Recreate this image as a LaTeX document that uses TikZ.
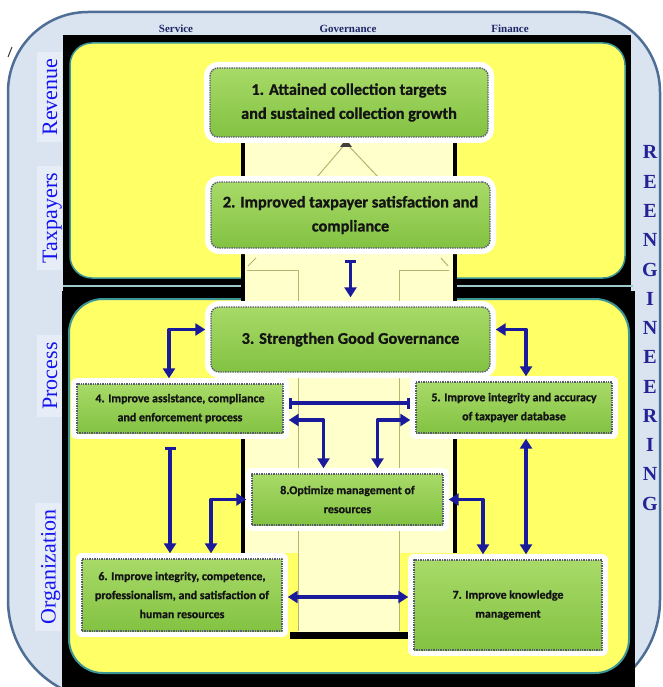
\documentclass[tikz,border=0pt]{standalone}
\usepackage{fontspec}
\newfontfamily\boxfont{Carlito}[BoldFeatures={FakeBold=1}]
\newfontfamily\sidefont{Liberation Serif}
\usetikzlibrary{arrows.meta, positioning, calc}

\definecolor{outerbg}{RGB}{218,227,240}
\definecolor{outerline}{RGB}{78,110,150}
\definecolor{labelbg}{RGB}{230,237,247}
\definecolor{zoneyellow}{RGB}{255,255,102}
\definecolor{paleyellow}{RGB}{255,255,204}
\definecolor{zoneteal}{RGB}{60,150,150}
\definecolor{columnline}{RGB}{180,182,110}
\definecolor{gtop}{RGB}{168,218,104}
\definecolor{gbot}{RGB}{130,194,66}
\definecolor{boxline}{RGB}{90,90,115}
\definecolor{arrowblue}{RGB}{26,26,156}
\definecolor{sideblue}{RGB}{20,20,240}
\definecolor{reblue}{RGB}{35,35,150}
\definecolor{topnavy}{RGB}{30,40,100}

\newcommand\goaltext{\boxfont\bfseries\fontsize{16.3}{24}\selectfont}
\newcommand\tasktext{\boxfont\bfseries\fontsize{11.9}{19}\selectfont}

\tikzset{
  gbox/.style={draw=boxline, line width=1.4pt, densely dotted,
    top color=gtop, bottom color=gbot, text=black!92, align=center,
    inner sep=0pt,
    preaction={draw=white, solid, line width=12pt}},
  goal/.style={gbox, rounded corners=8pt, font=\goaltext},
  task/.style={gbox, font=\tasktext},
  side/.style={rotate=90, fill=labelbg, text=sideblue,
    font=\sidefont\fontsize{22}{26}\selectfont,
    minimum height=25pt, inner xsep=7pt, text height=17pt, text depth=2pt},
  toplabel/.style={text=topnavy, font=\sidefont\bfseries\fontsize{11}{13}\selectfont, inner sep=0pt},
  reletter/.style={text=reblue, font=\sidefont\bfseries\fontsize{20}{22}\selectfont, inner sep=0pt},
  conn/.style={draw=arrowblue, line width=3.2pt, shorten <=5pt, shorten >=5pt},
  twoway/.style={conn, {Triangle[length=10pt,width=12pt]}-{Triangle[length=10pt,width=12pt]}},
  oneway/.style={conn, {Bar[width=11pt]}-{Triangle[length=10pt,width=12pt]}},
  barbar/.style={conn, {Bar[width=11pt]}-{Bar[width=11pt]}},
}

\begin{document}
\begin{tikzpicture}[x=1pt, y=-1pt, line join=round]
\useasboundingbox (0,0) rectangle (662,687);

% outer frame
\filldraw[fill=outerbg, draw=outerline, line width=2.5pt]
  (8,92) arc[start angle=180, end angle=270, radius=80] -- (580,12)
  arc[start angle=270, end angle=360, radius=80] -- (660,600)
  arc[start angle=0, end angle=90, radius=100] -- (108,700)
  arc[start angle=90, end angle=180, radius=100] -- cycle;
\draw[black!80, line width=1pt] (8,57) -- (12,47);

% column headings
\node[toplabel, anchor=base] (service) at (176,33) {Service};
\node[toplabel, anchor=base] (governance) at (348,33) {Governance};
\node[toplabel, anchor=base] (finance) at (510,33) {Finance};

% two zones
\fill[black] (63,35) rectangle (631,291);
\fill[black] (62,291) rectangle (635,690);
\draw[zoneteal!50!white, line width=1.2pt] (63,286) -- (633,286);
\filldraw[fill=zoneyellow, draw=zoneteal, line width=1.5pt, rounded corners=22pt]
  (70,43) rectangle (625,278);
\filldraw[fill=zoneyellow, draw=zoneteal, line width=2pt, rounded corners=34pt]
  (69,299) rectangle (629,673);

% central column
\fill[paleyellow] (243,133) rectangle (455,553);
\fill[paleyellow] (298,553) rectangle (399,632);
\draw[line width=4pt, line join=miter] (243,553) -- (243,133) -- (455,133) -- (455,553);
\draw[columnline, line width=1pt] (247,270) -- (298,270) -- (298,631);
\draw[columnline, line width=1pt] (449,270) -- (399,270) -- (399,631);
\draw[columnline, line width=1pt] (248,266) -- (256,258);
\draw[columnline, line width=1pt] (441,258) -- (448,266);
\draw[columnline, line width=1pt] (317,177) -- (346,143) -- (378,177);
\fill[black!75] (346,139) -- (340,147) -- (352,147) -- cycle;
\fill[black] (290,632) rectangle (409,639);

% perspective labels
\node[side] (revenue) at (49.5,97) {Revenue};
\node[side] (taxpayers) at (49.5,218) {Taxpayers};
\node[side] (process) at (49.5,376) {Process};
\node[side] (organization) at (48,567) {Organization};

\foreach \l [count=\i] in {R,E,E,N,G,I,N,E,E,R,I,N,G}
  \node[reletter, anchor=base] (re\i) at (650,{159+29.25*(\i-1)}) {\l};

% objectives
\node[goal, minimum width=278pt, minimum height=69pt] (b1) at (349,102.5)
  {1. Attained collection targets\\and sustained collection growth};
\node[goal, minimum width=279pt, minimum height=66pt] (b2) at (350.5,215)
  {2. Improved taxpayer satisfaction and\\compliance};
\node[goal, minimum width=279pt, minimum height=65pt] (b3) at (350.5,339.5)
  {3. Strengthen Good Governance};
\node[task, minimum width=206pt, minimum height=49pt] (b4) at (180,408.5)
  {4. Improve assistance, compliance\\and enforcement process};
\node[task, minimum width=196pt, minimum height=51pt] (b5) at (514,407.5)
  {5. Improve integrity and accuracy\\of taxpayer database};
\node[task, minimum width=191pt, minimum height=51pt] (b8) at (347.5,499.5)
  {8.Optimize management of\\resources};
\node[task, minimum width=200pt, minimum height=72pt] (b6) at (182,595)
  {6. Improve integrity, competence,\\professionalism, and satisfaction of\\human resources};
\node[task, minimum width=188pt, minimum height=90pt] (b7) at (508,605)
  {7. Improve knowledge\\management};

% links
\draw[oneway, shorten <=11pt, shorten >=9pt] (b2.south) -- (b3.north);
\draw[twoway] ([yshift=10pt]b3.west) -| ([xshift=-11pt]b4.north);
\draw[twoway] ([yshift=10pt]b3.east) -| ([xshift=12pt]b5.north);
\draw[barbar] ([yshift=5.5pt]b4.east) -- ([yshift=5.5pt]b4.east -| b5.west);
\draw[twoway] ([yshift=-11.5pt]b4.east) -| ([xshift=-24pt]b8.north);
\draw[twoway] ([yshift=-12.5pt]b5.west) -| ([xshift=30pt]b8.north);
\draw[oneway, shorten <=13pt] ([xshift=-10pt]b4.south) -- ([xshift=-10pt]b4.south |- b6.north);
\draw[twoway] ([xshift=12pt]b5.south) -- ([xshift=12pt]b5.south |- b7.north);
\draw[twoway] (b8.west) -| ([xshift=29pt]b6.north);
\draw[twoway] (b8.east) -| ([xshift=-25pt]b7.north);
\draw[twoway] ([yshift=-2pt]b6.east) -- ([yshift=-2pt]b6.east -| b7.west);
\end{tikzpicture}
\end{document}
